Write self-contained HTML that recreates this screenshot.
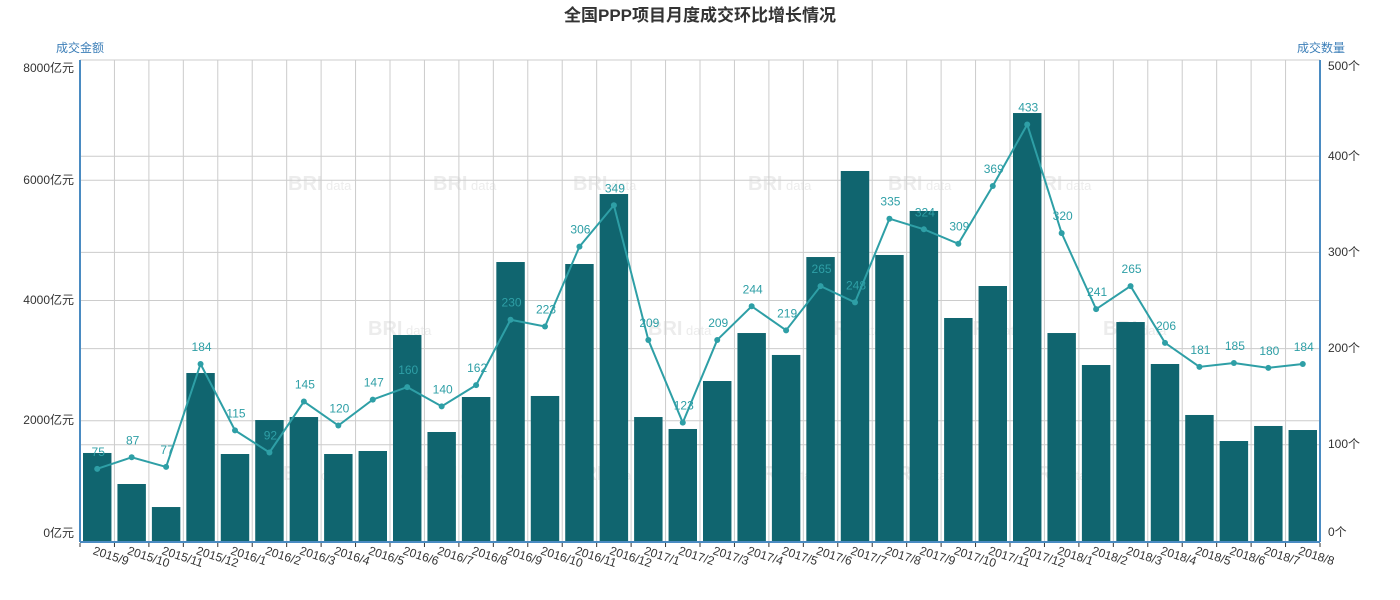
<!DOCTYPE html>
<html><head><meta charset="utf-8"><style>
html,body{margin:0;padding:0;background:#fff;}
svg{display:block;font-family:"Liberation Sans","Noto Sans CJK SC",sans-serif;}
</style></head><body>
<svg id="s" width="1400" height="600" xmlns="http://www.w3.org/2000/svg"></svg>
<script>
const s=document.getElementById('s');
const L=80,R=1320,T=60,B=541,H=B-T;
const cats=["2015/9","2015/10","2015/11","2015/12","2016/1","2016/2","2016/3","2016/4","2016/5","2016/6","2016/7","2016/8","2016/9","2016/10","2016/11","2016/12","2017/1","2017/2","2017/3","2017/4","2017/5","2017/6","2017/7","2017/8","2017/9","2017/10","2017/11","2017/12","2018/1","2018/2","2018/3","2018/4","2018/5","2018/6","2018/7","2018/8"];
const bars=[1464,948,565,2794,1447,2012,2062,1447,1497,3426,1813,2395,4640,2412,4607,5771,2062,1863,2661,3459,3094,4723,6154,4757,5489,3709,4241,7118,3459,2927,3642,2944,2096,1663,1913,1846];
const line=[75,87,77,184,115,92,145,120,147,160,140,162,230,223,306,349,209,123,209,244,219,265,248,335,324,309,369,433,320,241,265,206,181,185,180,184];
const n=36,w=(R-L)/n;
let h='';
h+=`<text x="700" y="21" text-anchor="middle" font-size="17" font-weight="bold" fill="#333">全国PPP项目月度成交环比增长情况</text>`;
h+=`<text x="80" y="52" text-anchor="middle" font-size="12" fill="#3d7fb8">成交金额</text>`;
h+=`<text x="1321" y="52" text-anchor="middle" font-size="12" fill="#3d7fb8">成交数量</text>`;
const wm=[[310,190],[455,190],[595,190],[770,190],[910,190],[1050,190],[390,335],[670,335],[840,335],[980,335],[1125,335],[305,480],[445,480],[590,480],[770,480],[905,480],[1045,480]];
wm.forEach(p=>{h+=`<text x="${p[0]-22}" y="${p[1]}" font-size="20" font-weight="bold" fill="#ececec">BRI</text><text x="${p[0]+16}" y="${p[1]}" font-size="13" fill="#ececec">data</text>`;});
for(let i=0;i<=n;i++){const x=L+i*w;h+=`<line x1="${x}" y1="${T}" x2="${x}" y2="${B}" stroke="#ccc"/>`;}
for(let k=1;k<=4;k++){const y=B-k*H/4;h+=`<line x1="${L}" y1="${y}" x2="${R}" y2="${y}" stroke="#ccc"/>`;}
for(let k=1;k<=5;k++){const y=B-k*H/5;h+=`<line x1="${L}" y1="${y}" x2="${R}" y2="${y}" stroke="#ccc"/>`;}
bars.forEach((v,i)=>{const bh=v/8000*H;const x=L+i*w+3;h+=`<rect x="${x}" y="${B-bh}" width="${w-6}" height="${bh}" fill="#10656f"/>`;});
let pts=line.map((v,i)=>[L+i*w+w/2,B-v/500*H]);
h+=`<polyline points="${pts.map(p=>p.join(',')).join(' ')}" fill="none" stroke="#2e9fa6" stroke-width="2"/>`;
pts.forEach((p,i)=>{h+=`<circle cx="${p[0]}" cy="${p[1]}" r="3" fill="#2e9fa6"/><text x="${p[0]+1}" y="${p[1]-13}" text-anchor="middle" font-size="12" fill="#2e9fa6">${line[i]}</text>`;});
h+=`<line x1="${L}" y1="${T}" x2="${L}" y2="${B+1}" stroke="#4a8bc2" stroke-width="2"/>`;
h+=`<line x1="${R}" y1="${T}" x2="${R}" y2="${B+1}" stroke="#4a8bc2" stroke-width="2"/>`;
h+=`<line x1="${L}" y1="${B+1}" x2="${R}" y2="${B+1}" stroke="#4a8bc2" stroke-width="2"/>`;
for(let i=0;i<=n;i++){const x=L+i*w;h+=`<line x1="${x}" y1="${B+2}" x2="${x}" y2="${B+6}" stroke="#333"/>`;}
const ly=[537,424,304,184,72];
for(let k=0;k<=4;k++){h+=`<text x="74" y="${ly[k]}" text-anchor="end" font-size="12" fill="#333">${k*2000}亿元</text>`;}
const ry=[536,448,352,256,160,70];
for(let k=0;k<=5;k++){h+=`<text x="1328" y="${ry[k]}" font-size="12" fill="#333">${k*100}个</text>`;}
cats.forEach((c,i)=>{const x=L+i*w+w/2-5;h+=`<text x="${x}" y="554" font-size="12" fill="#333" transform="rotate(18 ${x} 554)">${c}</text>`;});
s.innerHTML=h;
</script>
</body></html>
